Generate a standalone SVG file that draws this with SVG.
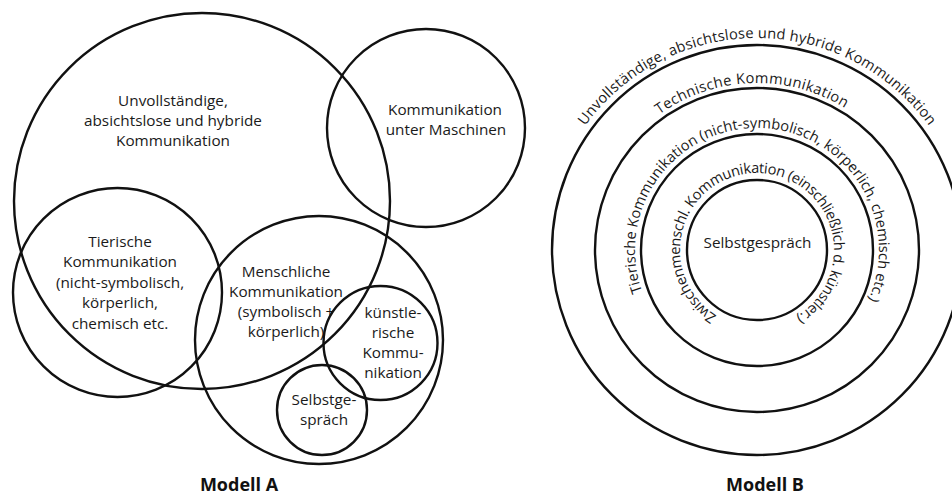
<svg xmlns="http://www.w3.org/2000/svg" width="952" height="496" viewBox="0 0 952 496">
<style>
.c{fill:none;stroke:#111;stroke-width:2.4}
.t{font-family:"Open Sans","Noto Sans",sans-serif;font-size:15.3px;fill:#1a1a1a;text-anchor:middle}
.a{font-family:"Open Sans","Noto Sans",sans-serif;font-size:14.6px;fill:#1a1a1a;text-anchor:middle}
.h{font-family:"Open Sans","Noto Sans",sans-serif;font-size:18px;font-weight:700;fill:#111;text-anchor:middle}
</style>
<defs>
<path id="p1" d="M757,462 A212,212 0 1,1 757,38 A212,212 0 1,1 757,462"/>
<path id="p2" d="M757,417 A167,167 0 1,1 757,83 A167,167 0 1,1 757,417"/>
<path id="p3" d="M757,372 A122,122 0 1,1 757,128 A122,122 0 1,1 757,372"/>
<path id="p4" d="M757,327 A77,77 0 1,1 757,173 A77,77 0 1,1 757,327"/>
</defs>
<rect width="952" height="496" fill="#fff"/>

<g id="modellA">
<g id="a-unvollstaendig">
<circle class="c" cx="202" cy="201" r="188"/>
<text class="t" x="173" y="106">Unvollständige,</text>
<text class="t" x="173" y="126">absichtslose und hybride</text>
<text class="t" x="173" y="146">Kommunikation</text>
</g>
<g id="a-maschinen">
<circle class="c" cx="426" cy="128" r="99"/>
<text class="t" x="445" y="115">Kommunikation</text>
<text class="t" x="446" y="135">unter Maschinen</text>
</g>
<g id="a-tierisch">
<circle class="c" cx="117.5" cy="292.5" r="104.5"/>
<text class="t" x="120" y="247">Tierische</text>
<text class="t" x="120" y="267.4">Kommunikation</text>
<text class="t" x="120" y="287.8">(nicht-symbolisch,</text>
<text class="t" x="120" y="308.2">körperlich,</text>
<text class="t" x="120" y="328.6">chemisch etc.</text>
</g>
<g id="a-menschlich">
<circle class="c" cx="319" cy="340" r="124"/>
<text class="t" x="286" y="277">Menschliche</text>
<text class="t" x="286" y="297">Kommunikation</text>
<text class="t" x="286" y="317">(symbolisch +</text>
<text class="t" x="286" y="337">körperlich)</text>
</g>
<g id="a-kuenstlerisch">
<circle class="c" cx="380.5" cy="343" r="57"/>
<text class="t" x="393" y="318">künstle-</text>
<text class="t" x="393" y="338">rische</text>
<text class="t" x="393" y="358">Kommu-</text>
<text class="t" x="393" y="378">nikation</text>
</g>
<g id="a-selbstgespraech">
<circle class="c" cx="322" cy="410" r="45"/>
<text class="t" x="324" y="405">Selbstge-</text>
<text class="t" x="324" y="425">spräch</text>
</g>
<text id="label-a" class="h" x="239" y="491">Modell A</text>
</g>

<g id="modellB">
<g id="b-unvollstaendig">
<circle class="c" cx="757" cy="250" r="205"/>
<text class="a"><textPath href="#p1" startOffset="50%" textLength="401" lengthAdjust="spacing">Unvollständige, absichtslose und hybride Kommunikation</textPath></text>
</g>
<g id="b-technisch">
<circle class="c" cx="757" cy="250" r="162"/>
<text class="a"><textPath href="#p2" startOffset="49.44%" textLength="197" lengthAdjust="spacing">Technische Kommunikation</textPath></text>
</g>
<g id="b-tierisch">
<circle class="c" cx="757" cy="250" r="116"/>
<text class="a"><textPath href="#p3" startOffset="50.56%" textLength="477" lengthAdjust="spacing">Tierische Kommunikation (nicht-symbolisch, körperlich, chemisch etc.)</textPath></text>
</g>
<g id="b-zwischenmenschlich">
<circle class="c" cx="757" cy="250" r="70"/>
<text class="a"><textPath href="#p4" startOffset="50.14%" textLength="400" lengthAdjust="spacing">Zwischenmenschl. Kommunikation (einschließlich d. künstler.)</textPath></text>
</g>
<g id="b-selbstgespraech">
<text class="t" x="757.5" y="248">Selbstgespräch</text>
</g>
<text id="label-b" class="h" x="765" y="491">Modell B</text>
</g>
</svg>
